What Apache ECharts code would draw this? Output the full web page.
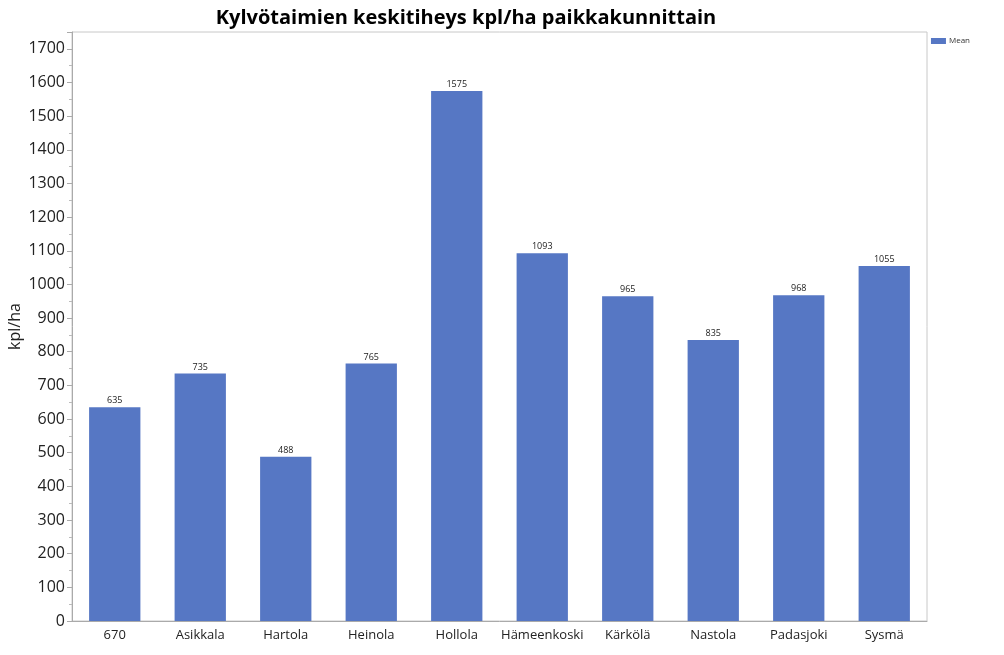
<!DOCTYPE html>
<html><head><meta charset="utf-8">
<script src="https://cdn.jsdelivr.net/npm/echarts@6/dist/echarts.min.js"></script>
<style>html,body{margin:0;padding:0;background:#fff}#c{width:1004px;height:655px}</style>
</head><body><div id="c"></div>
<script>
const categories = ["670","Asikkala","Hartola","Heinola","Hollola","Hämeenkoski","Kärkölä","Nastola","Padasjoki","Sysmä"];
const meanValues = [635,735,488,765,1575,1093,965,835,968,1055];
const chart = echarts.init(document.getElementById('c'));
chart.setOption({
  animation:false,
  textStyle:{fontFamily:"Open Sans"},
  title:{text:"Kylvötaimien keskitiheys kpl/ha paikkakunnittain",left:461,textAlign:'center',top:3,
    textStyle:{fontFamily:"Open Sans",fontWeight:'bold',fontSize:20,color:'#000'}},
  legend:{data:['Mean'],right:29,top:32,itemWidth:15,itemHeight:6,itemGap:4,
    textStyle:{fontSize:8,color:'#333',padding:[0,0,0,-2]},icon:'rect'},
  grid:{left:72,right:77,top:32,bottom:34,show:true,borderColor:'#c8c8c8',borderWidth:1,
    containLabel:false,outerBoundsMode:'none'},
  xAxis:{type:'category',data:categories,
    axisLine:{lineStyle:{color:'#aaa'}},axisTick:{show:false},
    axisLabel:{fontSize:13,color:'#222',margin:8,interval:0}},
  yAxis:{type:'value',min:0,max:1750,interval:100,name:'kpl/ha',nameLocation:'middle',nameGap:49,
    nameMoveOverlap:false,
    nameTextStyle:{fontSize:16,color:'#222'},
    axisLine:{show:true,lineStyle:{color:'#aaa'}},
    axisTick:{show:true,inside:false,length:5,lineStyle:{color:'#aaa'}},
    minorTick:{show:true,splitNumber:2,length:3,lineStyle:{color:'#bbb'}},
    splitLine:{show:false},
    axisLabel:{fontSize:16,color:'#222',margin:7,formatter:v=>v>1700?'':v}},
  series:[{name:'Mean',type:'bar',data:meanValues,barCategoryGap:'40%',
    itemStyle:{color:'#5677C4'},
    label:{show:true,position:'top',fontSize:9,color:'#222',distance:2}}]
});
</script></body></html>
